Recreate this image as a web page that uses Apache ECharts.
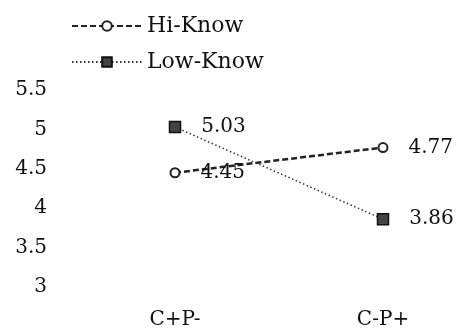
<!DOCTYPE html>
<html>
<head>
<meta charset="utf-8">
<script src="https://cdn.jsdelivr.net/npm/echarts@6/dist/echarts.min.js"></script>
<style>
  html, body { margin: 0; padding: 0; background: #fff; }
  #chart { width: 460px; height: 331px; }
</style>
</head>
<body>
<div id="chart"></div>
<script>
const categories = ['C+P-', 'C-P+'];
const hiKnow = [4.45, 4.77];
const lowKnow = [5.03, 3.86];
const yTicks = { min: 3, max: 5.5, interval: 0.5 };

const FONT = 'DejaVu Serif';
const INK = '#111';

const chart = echarts.init(document.getElementById('chart'), null, { renderer: 'canvas' });

chart.setOption({
  animation: false,
  backgroundColor: '#fff',
  legend: {
    orient: 'vertical',
    left: 66,
    top: 10,
    itemWidth: 70,
    itemHeight: 12,
    itemGap: 14,
    textStyle: { fontFamily: FONT, fontSize: 22, color: INK, padding: [0, 0, 0, 0] },
    data: ['Hi-Know', 'Low-Know'],
  },
  // the plot area runs past the right edge, like the source figure
  grid: { left: 71, width: 416, top: 90, bottom: 44, outerBoundsMode: 'none', containLabel: false },
  xAxis: {
    type: 'category',
    data: categories,
    axisLine: { show: false },
    axisTick: { show: false },
    axisLabel: { fontFamily: FONT, fontSize: 20, color: INK, margin: 23 },
  },
  yAxis: {
    type: 'value',
    min: yTicks.min,
    max: yTicks.max,
    interval: yTicks.interval,
    axisLine: { show: false },
    axisTick: { show: false },
    splitLine: { show: false },
    axisLabel: { fontFamily: FONT, fontSize: 20, color: INK, margin: 24 },
  },
  series: [
    {
      name: 'Hi-Know',
      type: 'line',
      data: hiKnow,
      symbol: 'circle',
      symbolSize: 9,
      itemStyle: { color: '#fff', borderColor: '#222', borderWidth: 2 },
      lineStyle: { color: '#222', width: 2.5, type: [6, 3] },
      label: {
        show: true, position: 'right', distance: 20,
        fontFamily: FONT, fontSize: 20, color: INK,
      },
    },
    {
      name: 'Low-Know',
      type: 'line',
      data: lowKnow,
      symbol: 'rect',
      symbolSize: 11,
      itemStyle: { color: '#444', borderColor: '#111', borderWidth: 1.5 },
      lineStyle: { color: '#333', width: 1.5, type: [1.5, 2.5] },
      label: {
        show: true, position: 'right', distance: 20,
        fontFamily: FONT, fontSize: 20, color: INK,
      },
    },
  ],
});
</script>
</body>
</html>
